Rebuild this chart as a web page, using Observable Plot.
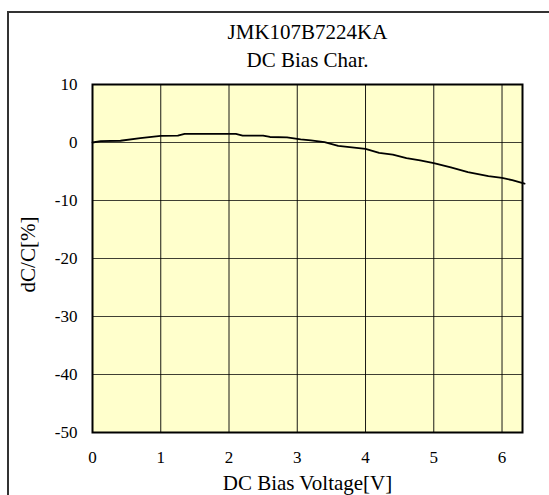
<!DOCTYPE html>
<html>
<head>
<meta charset="utf-8">
<script src="https://cdn.jsdelivr.net/npm/d3@7"></script>
<script src="https://cdn.jsdelivr.net/npm/@observablehq/plot@0.6"></script>
<style>
  html, body { margin: 0; padding: 0; background: #fff; }
  #wrap { position: relative; width: 549px; height: 495px; overflow: hidden; }
  #border { position: absolute; left: 7px; top: 11px; width: 600px; height: 600px;
            border-left: 2px solid #333; border-top: 2px solid #333; pointer-events: none; }
  svg text { font-family: 'Liberation Serif', 'Times New Roman', serif; }
</style>
</head>
<body>
<div id="wrap"><div id="border"></div></div>
<script>
const voltage = [0, 0.12, 0.41, 0.7, 1.0, 1.25, 1.35, 2.1, 2.2, 2.5, 2.6, 2.85, 3.05, 3.2, 3.4, 3.6, 4.0, 4.2, 4.4, 4.6, 4.8, 5.0, 5.25, 5.5, 5.8, 6.0, 6.15, 6.33];
const dcdc    = [0, 0.25, 0.3, 0.75, 1.15, 1.2, 1.5, 1.5, 1.2, 1.2, 0.95, 0.9, 0.55, 0.35, 0.05, -0.6, -1.1, -1.8, -2.1, -2.7, -3.1, -3.55, -4.3, -5.1, -5.8, -6.1, -6.5, -7.1];
const xTicks = [0, 1, 2, 3, 4, 5, 6];
const yTicks = [-50, -40, -30, -20, -10, 0, 10];
const titleLines = ["JMK107B7224KA", "DC Bias Char."];
const xLabel = "DC Bias Voltage[V]";
const yLabel = "dC/C[%]";

const data = voltage.map((v, i) => ({v, d: dcdc[i]}));
const font = "'Liberation Serif', 'Times New Roman', serif";

const chart = Plot.plot({
  width: 549,
  height: 495,
  marginLeft: 92,
  marginRight: 27,
  marginTop: 84,
  marginBottom: 63,
  style: {fontFamily: font, fontSize: "17px", color: "#000", background: "transparent"},
  x: {domain: [0, 6.3], label: null},
  y: {domain: [-50, 10], label: null},
  marks: [
    Plot.frame({fill: "#FFFFCC", stroke: null}),
    Plot.gridX(xTicks, {stroke: "#000", strokeOpacity: 0.9, strokeWidth: 1}),
    Plot.gridY(yTicks, {stroke: "#000", strokeOpacity: 0.75, strokeWidth: 1}),
    Plot.axisX(xTicks, {tickSize: 0, tickPadding: 18, label: null, tickFormat: d => String(d),
      fontFamily: font, fontSize: 17, fill: "#000"}),
    Plot.axisY(yTicks, {tickSize: 0, tickPadding: 15, label: null, tickFormat: d => String(d),
      fontFamily: font, fontSize: 17, fill: "#000"}),
    Plot.line(data, {x: "v", y: "d", stroke: "#000", strokeWidth: 1.8, clip: false}),
    Plot.frame({stroke: "#000", strokeWidth: 2}),
    Plot.text([titleLines[0]], {frameAnchor: "top", dy: -52, lineAnchor: "middle", textAnchor: "middle", text: d => d, fontSize: 21, fill: "#000", fontFamily: font}),
    Plot.text([titleLines[1]], {frameAnchor: "top", dy: -24, lineAnchor: "middle", textAnchor: "middle", text: d => d, fontSize: 21, fill: "#000", fontFamily: font}),
    Plot.text([xLabel], {frameAnchor: "bottom", dy: 51, lineAnchor: "middle", textAnchor: "middle", text: d => d, fontSize: 21, fill: "#000", fontFamily: font}),
    Plot.text([yLabel], {frameAnchor: "left", dx: -64, dy: -4, rotate: -90, lineAnchor: "middle", textAnchor: "middle", text: d => d, fontSize: 21, fill: "#000", fontFamily: font})
  ]
});
chart.style.position = "absolute";
chart.style.left = "0px";
chart.style.top = "0px";
document.getElementById("wrap").appendChild(chart);
</script>
</body>
</html>
